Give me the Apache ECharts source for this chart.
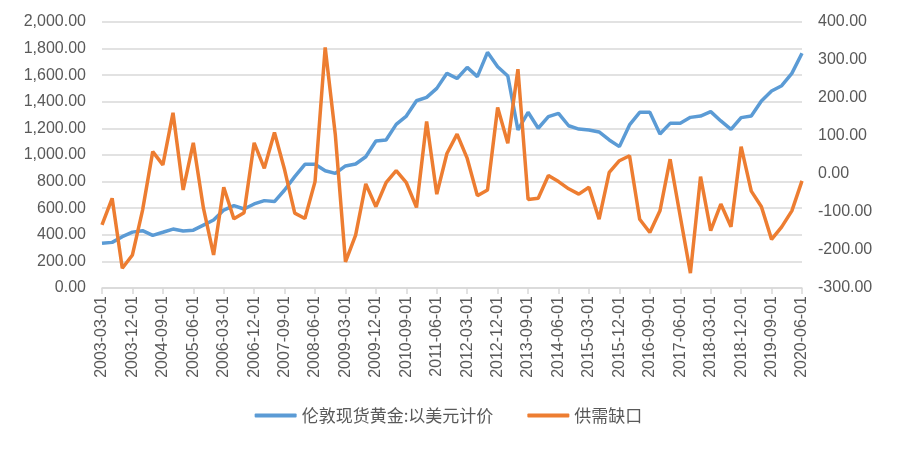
<!DOCTYPE html>
<html>
<head>
<meta charset="utf-8">
<script src="https://cdn.jsdelivr.net/npm/echarts@6/dist/echarts.min.js"></script>
<style>html,body{margin:0;padding:0;background:#fff}#c{width:897px;height:449px}</style>
</head>
<body>
<div id="c"></div>
<script>
const categories = [
'2003-03-01','2003-06-01','2003-09-01','2003-12-01','2004-03-01','2004-06-01','2004-09-01','2004-12-01',
'2005-03-01','2005-06-01','2005-09-01','2005-12-01','2006-03-01','2006-06-01','2006-09-01','2006-12-01',
'2007-03-01','2007-06-01','2007-09-01','2007-12-01','2008-03-01','2008-06-01','2008-09-01','2008-12-01',
'2009-03-01','2009-06-01','2009-09-01','2009-12-01','2010-03-01','2010-06-01','2010-09-01','2010-12-01',
'2011-03-01','2011-06-01','2011-09-01','2011-12-01','2012-03-01','2012-06-01','2012-09-01','2012-12-01',
'2013-03-01','2013-06-01','2013-09-01','2013-12-01','2014-03-01','2014-06-01','2014-09-01','2014-12-01',
'2015-03-01','2015-06-01','2015-09-01','2015-12-01','2016-03-01','2016-06-01','2016-09-01','2016-12-01',
'2017-03-01','2017-06-01','2017-09-01','2017-12-01','2018-03-01','2018-06-01','2018-09-01','2018-12-01',
'2019-03-01','2019-06-01','2019-09-01','2019-12-01','2020-03-01','2020-06-01'];

const goldPrice = [
336,343,386,420,431,396,419,443,428,435,473,511,586,619,594,632,
657,650,737,837,930,930,882,862,918,932,987,1105,1113,1230,1293,1408,
1433,1501,1614,1575,1659,1589,1772,1664,1594,1188,1321,1201,1288,1313,
1220,1195,1188,1173,1113,1063,1226,1321,1321,1158,1238,1238,1283,1293,
1326,1256,1193,1281,1293,1406,1481,1521,1614,1765];

const supplyGap = [
-134,-64,-248,-213,-95,59,24,161,-42,82,-90,-213,-35,-118,-102,82,
15,109,11,-103,-117,-20,333,103,-231,-161,-26,-86,-23,9,-23,-88,
138,-53,54,105,41,-57,-42,175,81,276,-67,-64,-4,-20,-39,-53,
-35,-119,4,35,48,-119,-154,-97,39,-112,-261,-7,-149,-79,-139,72,
-45,-86,-172,-139,-97,-18];

const seriesNames = ['伦敦现货黄金:以美元计价','供需缺口'];

const fmt = v => v.toLocaleString('en-US',{minimumFractionDigits:2,maximumFractionDigits:2});
const txt = '#595959';
const font = "'Liberation Sans', 'Noto Sans CJK SC', sans-serif";

const chart = echarts.init(document.getElementById('c'));
chart.setOption({
  animation:false,
  textStyle:{fontFamily:font},
  grid:{left:102,right:95,top:22,bottom:161,containLabel:false},
  legend:{
    bottom:20,left:'center',itemWidth:42,itemHeight:4,itemGap:34,
    icon:'roundRect',
    textStyle:{color:txt,fontSize:17,fontFamily:"'Noto Sans CJK SC', sans-serif"},
    data:seriesNames
  },
  xAxis:{
    type:'category',data:categories,boundaryGap:false,
    axisLine:{lineStyle:{color:'#d9d9d9',width:1.5}},
    axisTick:{interval:2,length:6,lineStyle:{color:'#d9d9d9',width:1.5}},
    axisLabel:{interval:2,rotate:90,color:txt,fontSize:16,margin:8,fontFamily:font}
  },
  yAxis:[
    {type:'value',min:0,max:2000,interval:200,
     axisLine:{show:false},axisTick:{show:false},
     splitLine:{lineStyle:{color:'#d9d9d9',width:1.5}},
     axisLabel:{color:txt,fontSize:16,formatter:fmt,margin:16}},
    {type:'value',min:-300,max:400,interval:100,position:'right',
     axisLine:{show:false},axisTick:{show:false},splitLine:{show:false},
     axisLabel:{color:txt,fontSize:16,formatter:fmt,margin:16}}
  ],
  series:[
    {name:seriesNames[0],type:'line',data:goldPrice,yAxisIndex:0,showSymbol:false,
     lineStyle:{color:'#5B9BD5',width:3.5},itemStyle:{color:'#5B9BD5'}},
    {name:seriesNames[1],type:'line',data:supplyGap,yAxisIndex:1,showSymbol:false,
     lineStyle:{color:'#ED7D31',width:3.5},itemStyle:{color:'#ED7D31'}}
  ]
});
</script>
</body>
</html>
